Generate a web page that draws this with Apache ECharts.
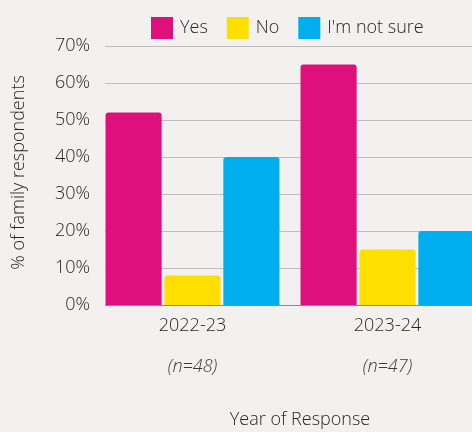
<!DOCTYPE html>
<html>
<head>
<meta charset="utf-8">
<style>
  html, body { margin: 0; padding: 0; background: #f2f1ef; }
  #chart { width: 472px; height: 432px; }
</style>
<script src="https://cdn.jsdelivr.net/npm/echarts@6/dist/echarts.min.js"></script>
</head>
<body>
<div id="chart"></div>
<script>
// Survey years and sample sizes
const years = ['2022-23', '2023-24'];
const sampleSizes = ['(n=48)', '(n=47)'];

// Share of family respondents per answer (%)
const yesValues = [52, 65];
const noValues = [8, 15];
const notSureValues = [40, 20];

// Value axis ticks (%)
const yTicks = [0, 10, 20, 30, 40, 50, 60, 70];

const bgColor = '#f2f1ef';
const textColor = '#262626';
const fontFamily = '"Open Sans", "Noto Sans", sans-serif';
const fontWeight = 300;

const chart = echarts.init(document.getElementById('chart'), null, { renderer: 'canvas' });

function barSeries(name, data, color) {
  return {
    name: name,
    type: 'bar',
    z: 3,
    data: data,
    barGap: '5%',
    barCategoryGap: '10.8%',
    itemStyle: { color: color, borderRadius: [3, 3, 0, 0] }
  };
}

chart.setOption({
  backgroundColor: bgColor,
  textStyle: { fontFamily: fontFamily, color: textColor, fontWeight: fontWeight },
  legend: {
    top: 12,
    left: 146,
    itemWidth: 22,
    itemHeight: 22,
    itemGap: 19,
    icon: 'rect',
    textStyle: { fontSize: 18, color: textColor, fontFamily: fontFamily, fontWeight: fontWeight, padding: [0, 0, 0, 2] }
  },
  // the plot runs past the right edge of the canvas, so the last bar is cut off
  grid: { left: 95, top: 46, width: 390, height: 259, containLabel: false, outerBoundsMode: 'none' },
  // the rules start flush with the first bar: mask the outer half-gap on the left
  graphic: [{
    type: 'rect',
    z: 1,
    left: 94,
    top: 40,
    shape: { width: 11, height: 270 },
    style: { fill: bgColor }
  }],
  xAxis: {
    type: 'category',
    data: years,
    axisTick: { show: false },
    axisLine: { lineStyle: { color: '#8a8a8a', width: 1 } },
    axisLabel: {
      margin: 10,
      formatter: function (value, idx) {
        return '{y|' + value + '}\n{n|' + sampleSizes[idx] + '}';
      },
      rich: {
        y: { fontSize: 18, color: textColor, fontFamily: fontFamily, fontWeight: fontWeight, lineHeight: 22 },
        n: { fontSize: 18, color: '#3a3a3a', fontFamily: fontFamily, fontWeight: fontWeight, fontStyle: 'italic', lineHeight: 60, verticalAlign: 'middle' }
      }
    },
    name: 'Year of Response',
    nameLocation: 'middle',
    nameGap: 106,
    nameTextStyle: { fontSize: 18, color: textColor, fontFamily: fontFamily, fontWeight: fontWeight, padding: [0, 0, 0, 20] }
  },
  yAxis: {
    type: 'value',
    min: yTicks[0],
    max: yTicks[yTicks.length - 1],
    interval: 10,
    axisLabel: {
      formatter: '{value}%',
      fontSize: 18,
      color: textColor,
      fontFamily: fontFamily,
      fontWeight: fontWeight,
      margin: 5
    },
    splitLine: { lineStyle: { color: '#bdbdbd', width: 1 } },
    name: '% of family respondents',
    nameLocation: 'middle',
    nameGap: 67,
    nameRotate: 90,
    nameTextStyle: { fontSize: 18, color: textColor, fontFamily: fontFamily, fontWeight: fontWeight, padding: [0, 0, 0, 6] }
  },
  series: [
    barSeries('Yes', yesValues, '#df0f7b'),
    barSeries('No', noValues, '#ffdf00'),
    barSeries("I'm not sure", notSureValues, '#00aeef')
  ]
});
</script>
</body>
</html>
